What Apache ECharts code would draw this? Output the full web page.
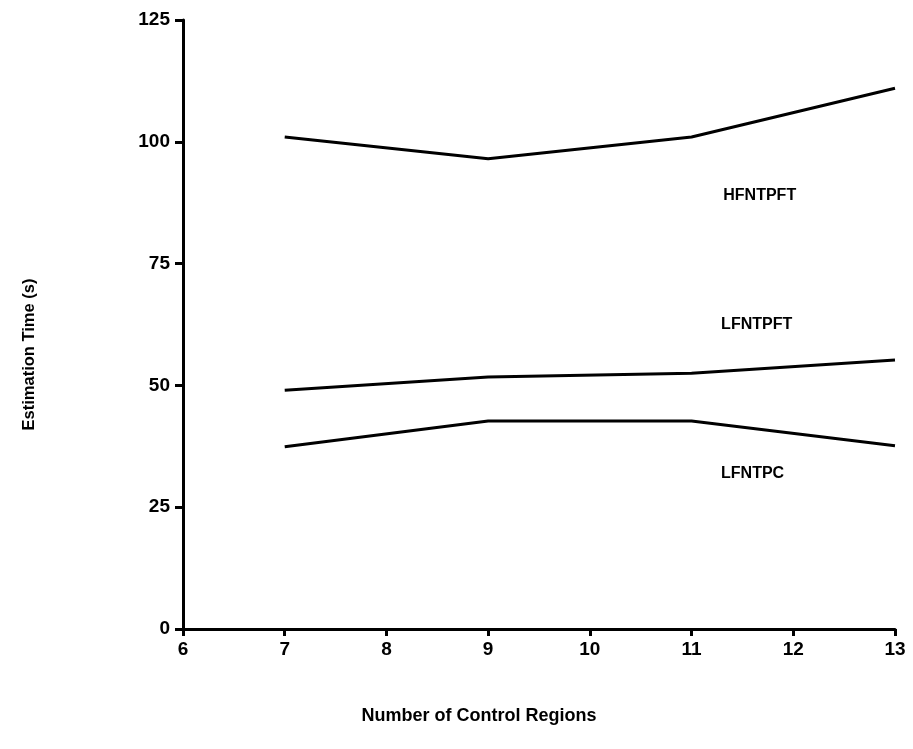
<!DOCTYPE html>
<html>
<head>
<meta charset="utf-8">
<script src="https://cdn.jsdelivr.net/npm/echarts@6/dist/echarts.min.js"></script>
<style>
  html, body { margin: 0; padding: 0; background: #fff; }
  #chart { width: 913px; height: 749px; }
</style>
</head>
<body>
<div id="chart"></div>
<script>
// Number of control regions evaluated
const regions = [7, 9, 11, 13];

// Estimation time (s) per method
const hfntpft = [101, 96.5, 101, 111];
const lfntpft = [49, 51.7, 52.5, 55.2];
const lfntpc = [37.4, 42.7, 42.7, 37.6];

// Curve names and where each name sits, in axis units [regions, seconds]
const curveNames = ['HFNTPFT', 'LFNTPFT', 'LFNTPC'];
const namePositions = [[11.67, 88.9], [11.64, 62.4], [11.6, 31.8]];

const xTicks = [6, 7, 8, 9, 10, 11, 12, 13];
const yTicks = [0, 25, 50, 75, 100, 125];

const font = 'Liberation Sans, Arial, sans-serif';

function pairs(ys) {
  return regions.map((x, i) => [x, ys[i]]);
}

function curve(name, ys) {
  return {
    name: name,
    type: 'line',
    data: pairs(ys),
    showSymbol: false,
    symbol: 'none',
    lineStyle: { color: '#000', width: 3 },
    silent: true
  };
}

const chart = echarts.init(document.getElementById('chart'), null, { renderer: 'canvas' });

chart.setOption({
  animation: false,
  backgroundColor: '#fff',
  grid: { left: 183, right: 18, top: 20, bottom: 120 },
  xAxis: {
    type: 'value',
    min: xTicks[0],
    max: xTicks[xTicks.length - 1],
    interval: 1,
    name: 'Number of Control Regions',
    nameLocation: 'middle',
    nameGap: 78,
    nameTextStyle: {
      fontFamily: font, fontSize: 18, fontWeight: 'bold', color: '#000',
      padding: [0, 120, 0, 0]
    },
    axisLine: { lineStyle: { color: '#000', width: 3 } },
    axisTick: { length: 7, lineStyle: { color: '#000', width: 3 } },
    axisLabel: { fontFamily: font, fontSize: 19, fontWeight: 'bold', color: '#000', margin: 11 },
    splitLine: { show: false }
  },
  yAxis: {
    type: 'value',
    min: yTicks[0],
    max: yTicks[yTicks.length - 1],
    interval: 25,
    name: 'Estimation Time (s)',
    nameLocation: 'middle',
    nameGap: 145,
    nameRotate: 90,
    nameTextStyle: {
      fontFamily: font, fontSize: 16.5, fontWeight: 'bold', color: '#000',
      padding: [0, 60, 0, 0]
    },
    axisLine: { show: true, lineStyle: { color: '#000', width: 3 } },
    axisTick: { show: true, length: 8, lineStyle: { color: '#000', width: 3 } },
    axisLabel: { fontFamily: font, fontSize: 19, fontWeight: 'bold', color: '#000', margin: 13 },
    splitLine: { show: false }
  },
  series: [
    curve(curveNames[0], hfntpft),
    curve(curveNames[1], lfntpft),
    curve(curveNames[2], lfntpc),
    {
      type: 'scatter',
      data: namePositions.map((p, i) => ({ value: p, name: curveNames[i] })),
      symbolSize: 0,
      silent: true,
      itemStyle: { opacity: 1, color: '#000' },
      label: {
        show: true,
        position: [0, 0],
        align: 'center',
        verticalAlign: 'middle',
        formatter: (p) => p.name,
        fontFamily: font,
        fontSize: 16,
        fontWeight: 'bold',
        color: '#000'
      }
    }
  ]
});
</script>
</body>
</html>
